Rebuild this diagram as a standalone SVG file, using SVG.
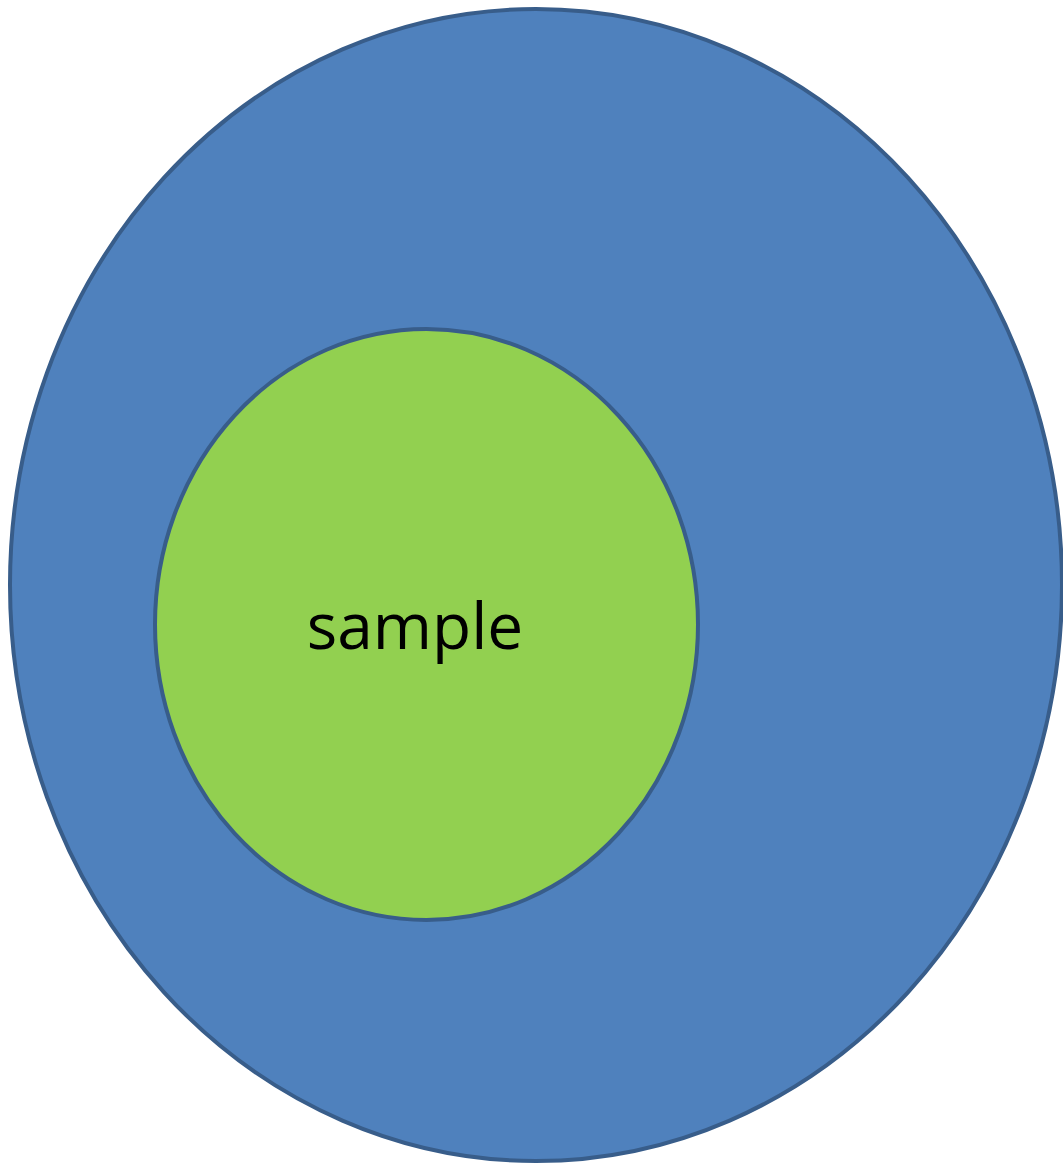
<svg xmlns="http://www.w3.org/2000/svg" width="1063" height="1164" viewBox="0 0 1063 1164">
<style>
.shape{stroke:#385D8A;stroke-width:4}
.label{font-family:"Open Sans","Noto Sans",sans-serif;font-size:64px;fill:#000}
</style>
<rect width="1063" height="1164" fill="#fff"/>
<g id="outer">
<ellipse class="shape" cx="536" cy="585" rx="526" ry="576" fill="#4F81BD"/>
</g>
<g id="sample">
<ellipse class="shape" cx="426.5" cy="624.5" rx="271.5" ry="295.5" fill="#92D050"/>
<text class="label" x="415" y="649" text-anchor="middle">sample</text>
</g>
<g id="connectors"/>
</svg>
